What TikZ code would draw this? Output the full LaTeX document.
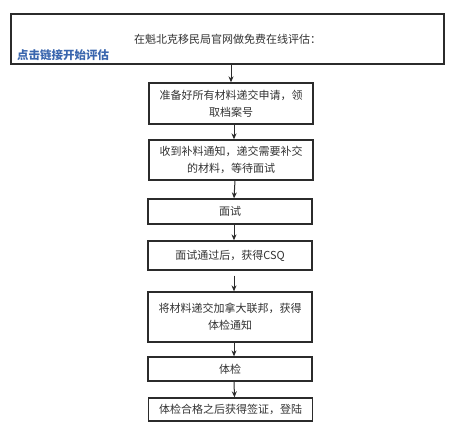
\documentclass[tikz,border=0pt]{standalone}
\usepackage{fontspec}
\newfontfamily\cjk{Noto Sans CJK SC}
\usepackage{tikz}
\usetikzlibrary{arrows.meta}
\definecolor{boxline}{HTML}{2B2B2B}
\definecolor{linkblue}{HTML}{3A66AE}
\tikzset{
    stepbox/.style={draw=boxline, line width=1.3pt, fill=white, minimum width=164pt,
        align=center, inner sep=0pt, text=black!80, font=\cjk\fontsize{11}{17}\selectfont},
    flowarrow/.style={line width=1pt, draw=boxline, -{Stealth[length=6pt,width=5pt]}}
}

\begin{document}
\begin{tikzpicture}[x=1pt, y=-1pt]
    % Fix the page size
    \useasboundingbox[fill=white] (0,0) rectangle (455,438);
    % Draw top box with link text
    \node[stepbox, minimum width=433pt, minimum height=50pt] (evaluate) at (227.5,39)
        {在魁北克移民局官网做免费在线评估：};
    \node[anchor=west, inner sep=0pt, text=linkblue, font=\cjk\bfseries\fontsize{11.5}{14}\selectfont]
        (link) at (17,55) {点击链接开始评估};
    % Draw the steps
    \node[stepbox, minimum height=41pt] (apply) at (231,103.5) {准备好所有材料递交申请，领\\取档案号};
    \node[stepbox, minimum height=40pt] (supply) at (231,160) {收到补料通知，递交需要补交\\的材料，等待面试};
    \node[stepbox, minimum height=25pt] (interview) at (230,211.5) {面试};
    \node[stepbox, minimum height=29pt] (csq) at (230,255.5) {面试通过后，获得CSQ};
    \node[stepbox, minimum height=50pt] (federal) at (230,317) {将材料递交加拿大联邦，获得\\体检通知};
    \node[stepbox, minimum height=24pt] (medical) at (230,369) {体检};
    \node[stepbox, minimum height=23pt] (visa) at (230.5,409.5) {体检合格之后获得签证，登陆};
    % Draw arrows between steps
    \draw[flowarrow] (evaluate.south -| apply) -- (apply.north);
    \draw[flowarrow] ([xshift=3pt]apply.south) -- ([xshift=3pt]supply.north);
    \draw[flowarrow] ([xshift=4pt]supply.south) -- ([xshift=4pt]interview.north);
    \draw[flowarrow] ([xshift=4pt]interview.south) -- ([xshift=4pt]csq.north);
    \draw[flowarrow, shorten <=5pt] ([xshift=4pt]csq.south) -- ([xshift=4pt]federal.north);
    \draw[flowarrow] ([xshift=4pt]federal.south) -- ([xshift=4pt]medical.north);
    \draw[flowarrow] ([xshift=4pt]medical.south) -- ([xshift=4pt]visa.north);
\end{tikzpicture}
\end{document}
